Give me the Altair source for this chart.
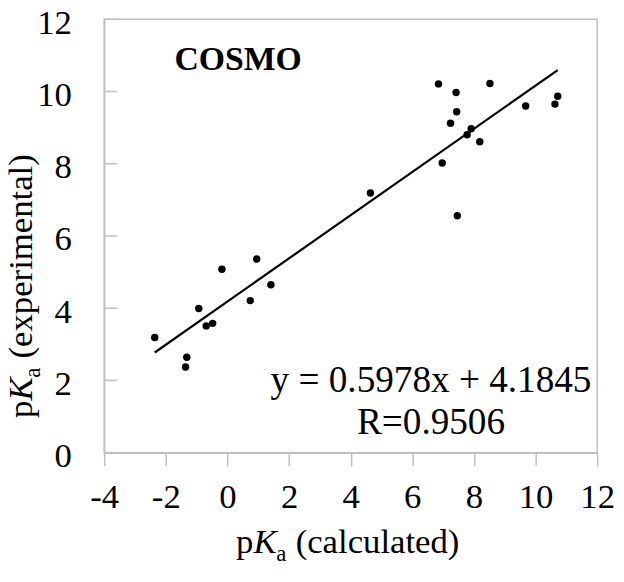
import altair as alt
import pandas as pd

# Data
calc_pka = [-2.36, -1.32, -1.36, -0.93, -0.69, -0.48, -0.18, 0.74, 0.95, 1.41,
            4.64, 6.85, 7.42, 8.52, 7.44, 7.24, 7.91, 7.78, 8.19, 6.97,
            7.46, 9.68, 10.63, 10.72]
exp_pka = [3.19, 2.64, 2.37, 3.99, 3.51, 3.58, 5.08, 4.21, 5.36, 4.65,
           7.19, 10.21, 9.97, 10.22, 9.44, 9.12, 8.97, 8.80, 8.61, 8.02,
           6.56, 9.60, 9.65, 9.87]
slope = 0.5978
intercept = 4.1845
x_ticks = [-4, -2, 0, 2, 4, 6, 8, 10, 12]
y_ticks = [0, 2, 4, 6, 8, 10, 12]
equation_text = "y = 0.5978x + 4.1845"
r_text = "R=0.9506"
panel_label = "COSMO"

FONT = "Liberation Serif"
GRAY = "#bfbfbf"

pts = pd.DataFrame({"calc": calc_pka, "exp": exp_pka})
line_x = [min(calc_pka), max(calc_pka)]
line_df = pd.DataFrame({"calc": line_x, "exp": [slope * v + intercept for v in line_x]})
ytick_df = pd.DataFrame({"v": y_ticks})

xscale = alt.Scale(domain=[-4, 12], nice=False, zero=False)
yscale = alt.Scale(domain=[0, 12], nice=False, zero=False)

xaxis = alt.Axis(values=x_ticks, title=None, grid=False, domainColor=GRAY, domainWidth=1.5,
                 tickColor=GRAY, tickWidth=1.5, tickSize=13, labelFont=FONT, labelFontSize=35,
                 labelColor="black", labelPadding=14, labelFlush=False, labelOverlap=False,
                 labelExpr="'' + datum.value")
yaxis = alt.Axis(values=y_ticks, title=None, grid=False, domainColor=GRAY, domainWidth=1.5,
                 ticks=False, tickSize=0, labelFont=FONT, labelFontSize=35,
                 labelColor="black", labelPadding=33, labelFlush=False, labelOverlap=False,
                 labelOffset=3, labelExpr="'' + datum.value")

points = alt.Chart(pts).mark_circle(color="black", opacity=1, size=56).encode(
    x=alt.X("calc:Q", scale=xscale, axis=xaxis),
    y=alt.Y("exp:Q", scale=yscale, axis=yaxis),
)

trend = alt.Chart(line_df).mark_line(color="black", strokeWidth=2.2).encode(
    x=alt.X("calc:Q", scale=xscale),
    y=alt.Y("exp:Q", scale=yscale),
)

yticks = alt.Chart(ytick_df).mark_rule(color=GRAY, strokeWidth=1.5).encode(
    x=alt.value(0), x2=alt.value(13), y=alt.Y("v:Q", scale=yscale)
)

def txt(t, x, y, size=35, **kw):
    return alt.Chart(pd.DataFrame({"t": [t]})).mark_text(
        font=FONT, fontSize=size, color="black", baseline="alphabetic", **kw
    ).encode(text="t:N", x=alt.value(x), y=alt.value(y))

annotations = [
    txt(panel_label, 135, 51, size=34, fontWeight="bold", align="center"),
    txt(equation_text, 329.5, 376, size=37.5, align="center"),
    txt(r_text, 329.5, 418, size=37.5, align="center"),
    # x-axis title: p K_a (calculated)
    txt("p", 133, 538, align="left"),
    txt("K", 150.5, 538, align="left", fontStyle="italic"),
    txt("a", 173.5, 546, size=23, align="left"),
    txt("(calculated)", 193, 538, align="left"),
    # y-axis title: p K_a (experimental), rotated
    txt("p", -73, 402, align="left", angle=270),
    txt("K", -73, 384.5, align="left", angle=270, fontStyle="italic"),
    txt("a", -65, 361.5, size=23, align="left", angle=270),
    txt("(experimental)", -73, 342, align="left", angle=270),
]

chart = alt.layer(yticks, trend, points, *annotations).properties(
    width=497, height=437,
    autosize=alt.AutoSizeParams(type="none"),
    padding={"left": 97, "top": 9, "right": 19, "bottom": 121},
).configure_view(stroke=GRAY, strokeWidth=1.5)

chart.save("out.html", embed_options={"renderer": "svg", "actions": False})
